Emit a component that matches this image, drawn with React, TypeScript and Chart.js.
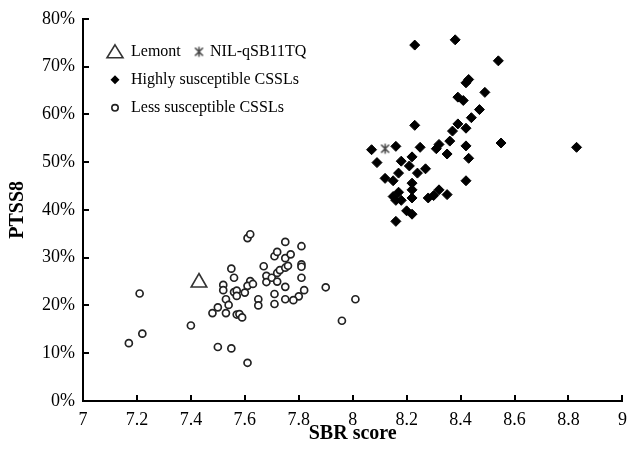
import { useEffect, useRef } from 'react';
import { Chart, registerables } from 'chart.js';

Chart.register(...registerables);

// ---- Data ----
const xTickValues = [7, 7.2, 7.4, 7.6, 7.8, 8, 8.2, 8.4, 8.6, 8.8, 9];
const xTickLabels = ['7', '7.2', '7.4', '7.6', '7.8', '8', '8.2', '8.4', '8.6', '8.8', '9'];
const yTickValues = [0, 10, 20, 30, 40, 50, 60, 70, 80];
const yTickLabels = ['0%', '10%', '20%', '30%', '40%', '50%', '60%', '70%', '80%'];

const legendLabels = ['Lemont', 'NIL-qSB11TQ', 'Highly susceptible CSSLs', 'Less susceptible CSSLs'];

const lemontX = [7.43];
const lemontY = [24.8];

const nilX = [8.12];
const nilY = [52.8];

const highlyX = [
  8.23, 8.38, 8.54, 8.43, 8.42, 8.49, 8.39, 8.41, 8.47, 8.44,
  8.23, 8.39, 8.37, 8.42, 8.36, 8.32, 8.31, 8.42, 8.55, 8.83,
  8.07, 8.16, 8.25, 8.09, 8.18, 8.22, 8.35, 8.43, 8.21, 8.24,
  8.27, 8.12, 8.15, 8.17, 8.42, 8.15, 8.17, 8.18, 8.16, 8.22,
  8.22, 8.22, 8.28, 8.30, 8.32, 8.35, 8.20, 8.22, 8.16,
];
const highlyY = [
  74.5, 75.6, 71.2, 67.3, 66.6, 64.6, 63.6, 62.9, 61.0, 59.3,
  57.7, 58.0, 56.5, 57.1, 54.4, 53.7, 52.8, 53.4, 54.0, 53.1,
  52.6, 53.3, 53.1, 49.9, 50.2, 51.1, 51.7, 50.8, 49.2, 47.7,
  48.6, 46.6, 46.1, 47.7, 46.1, 42.8, 43.7, 42.0, 42.0, 45.6,
  44.2, 42.5, 42.5, 43.0, 44.2, 43.2, 39.8, 39.1, 37.6,
];

const lessX = [
  7.21, 7.17, 7.22, 7.40, 7.50, 7.55, 7.61, 7.61, 7.62, 7.55,
  7.56, 7.52, 7.52, 7.56, 7.57, 7.57, 7.53, 7.54, 7.50, 7.48,
  7.53, 7.57, 7.58, 7.59, 7.62, 7.61, 7.63, 7.60, 7.65, 7.65,
  7.67, 7.68, 7.68, 7.70, 7.72, 7.72, 7.73, 7.75, 7.76, 7.71,
  7.72, 7.75, 7.75, 7.77, 7.81, 7.81, 7.81, 7.81, 7.82, 7.80,
  7.78, 7.75, 7.75, 7.71, 7.71, 7.90, 8.01, 7.96,
];
const lessY = [
  22.5, 12.1, 14.1, 15.8, 11.3, 11.0, 8.0, 34.1, 34.9, 27.7,
  25.8, 24.3, 23.2, 22.8, 23.1, 22.0, 21.3, 20.1, 19.6, 18.4,
  18.4, 18.1, 18.2, 17.5, 25.1, 24.1, 24.5, 22.7, 21.3, 20.0,
  28.2, 26.2, 24.9, 25.8, 25.0, 26.8, 27.4, 27.9, 28.3, 30.3,
  31.2, 33.3, 29.9, 30.7, 32.4, 28.6, 28.1, 25.8, 23.2, 21.9,
  21.1, 21.3, 23.9, 22.4, 20.3, 23.8, 21.3, 16.8,
];

const toPoints = (xs: number[], ys: number[]) => xs.map((x, i) => ({ x, y: ys[i] }));

function makeAsterisk(size: number, color: string, lw: number) {
  const c = document.createElement('canvas');
  c.width = size;
  c.height = size;
  const g = c.getContext('2d')!;
  g.strokeStyle = color;
  g.lineWidth = lw;
  const m = lw;
  g.beginPath();
  g.moveTo(size / 2, m);
  g.lineTo(size / 2, size - m);
  g.moveTo(m + 1, m + 1);
  g.lineTo(size - m - 1, size - m - 1);
  g.moveTo(size - m - 1, m + 1);
  g.lineTo(m + 1, size - m - 1);
  g.stroke();
  return c;
}

const SERIF = '"Liberation Serif", "Times New Roman", serif';

export default function App() {
  const ref = useRef<HTMLCanvasElement | null>(null);

  useEffect(() => {
    document.body.style.margin = '0';
    if (!ref.current) return;
    const star = makeAsterisk(13, '#444', 1.5);

    const decor = {
      id: 'decor',
      afterDraw(chart: any) {
        const { ctx, chartArea, scales } = chart;
        ctx.save();
        ctx.strokeStyle = '#000';
        ctx.lineWidth = 2;
        xTickValues.forEach((v) => {
          const px = Math.round(scales.x.getPixelForValue(v));
          ctx.beginPath();
          ctx.moveTo(px, chartArea.bottom);
          ctx.lineTo(px, chartArea.bottom - 6);
          ctx.stroke();
        });
        yTickValues.forEach((v) => {
          const py = Math.round(scales.y.getPixelForValue(v));
          ctx.beginPath();
          ctx.moveTo(chartArea.left, py);
          ctx.lineTo(chartArea.left + 6, py);
          ctx.stroke();
        });

        // legend
        const lx = chartArea.left + 32;
        const r1 = chartArea.top + 33;
        const r2 = r1 + 28;
        const r3 = r2 + 28;
        const tx = lx + 16;
        ctx.font = `16px ${SERIF}`;
        ctx.fillStyle = '#000';
        ctx.textBaseline = 'middle';
        ctx.textAlign = 'left';

        // triangle
        ctx.strokeStyle = '#333';
        ctx.lineWidth = 1.6;
        ctx.beginPath();
        ctx.moveTo(lx, r1 - 7);
        ctx.lineTo(lx + 8, r1 + 6);
        ctx.lineTo(lx - 8, r1 + 6);
        ctx.closePath();
        ctx.stroke();
        ctx.fillText(legendLabels[0], tx, r1);

        // asterisk
        const ax = lx + 84;
        ctx.drawImage(star, ax - 6.5, r1 - 6.5);
        ctx.fillText(legendLabels[1], ax + 11, r1);

        // diamond
        ctx.fillStyle = '#000';
        ctx.beginPath();
        ctx.moveTo(lx, r2 - 4.5);
        ctx.lineTo(lx + 4.5, r2);
        ctx.lineTo(lx, r2 + 4.5);
        ctx.lineTo(lx - 4.5, r2);
        ctx.closePath();
        ctx.fill();
        ctx.fillText(legendLabels[2], tx, r2);

        // circle
        ctx.strokeStyle = '#222';
        ctx.lineWidth = 1.6;
        ctx.beginPath();
        ctx.arc(lx, r3, 3.2, 0, Math.PI * 2);
        ctx.stroke();
        ctx.fillText(legendLabels[3], tx, r3);
        ctx.restore();
      },
    };

    const chart = new Chart(ref.current, {
      type: 'scatter',
      data: {
        datasets: [
          {
            label: legendLabels[3],
            data: toPoints(lessX, lessY),
            pointStyle: 'circle',
            pointRadius: 3.5,
            pointBorderWidth: 1.7,
            pointBackgroundColor: '#fff',
            pointBorderColor: '#222',
          },
          {
            label: legendLabels[2],
            data: toPoints(highlyX, highlyY),
            pointStyle: 'rectRot',
            pointRadius: 5,
            pointBorderWidth: 1,
            pointBackgroundColor: '#000',
            pointBorderColor: '#000',
          },
          {
            label: legendLabels[0],
            data: toPoints(lemontX, lemontY),
            pointStyle: 'triangle',
            pointRadius: 9,
            pointBorderWidth: 1.6,
            pointBackgroundColor: 'rgba(255,255,255,0)',
            pointBorderColor: '#333',
          },
          {
            label: legendLabels[1],
            data: toPoints(nilX, nilY),
            pointStyle: star,
            pointRadius: 6,
          },
        ],
      },
      options: {
        responsive: false,
        animation: false,
        devicePixelRatio: 1,
        layout: { padding: { left: 0, right: 6, top: 16, bottom: 0 } },
        plugins: { legend: { display: false }, tooltip: { enabled: false } },
        scales: {
          x: {
            type: 'linear',
            min: 7,
            max: 9,
            afterBuildTicks: (scale: any) => {
              scale.ticks = xTickValues.map((v) => ({ value: v }));
            },
            afterFit: (scale: any) => {
              scale.height = 55;
              scale.paddingLeft = 0;
              scale.paddingRight = 0;
            },
            grid: { display: false, drawTicks: false },
            border: { display: true, color: '#000', width: 2 },
            ticks: {
              color: '#000',
              padding: 8,
              maxRotation: 0,
              autoSkip: false,
              font: { family: SERIF, size: 18 },
              callback: (_v: any, i: number) => xTickLabels[i],
            },
            title: {
              display: true,
              text: 'SBR score',
              color: '#000',
              font: { family: SERIF, size: 20, weight: 'bold' },
              padding: { top: 0, bottom: 10 },
            },
          },
          y: {
            type: 'linear',
            min: 0,
            max: 80,
            afterBuildTicks: (scale: any) => {
              scale.ticks = yTickValues.map((v) => ({ value: v }));
            },
            afterFit: (scale: any) => {
              scale.width = 83;
            },
            grid: { display: false, drawTicks: false },
            border: { display: true, color: '#000', width: 2 },
            ticks: {
              color: '#000',
              padding: 8,
              autoSkip: false,
              font: { family: SERIF, size: 18 },
              callback: (_v: any, i: number) => yTickLabels[i],
            },
            title: {
              display: true,
              text: 'PTSS8',
              color: '#000',
              font: { family: SERIF, size: 20, weight: 'bold' },
              padding: { top: 6, bottom: 0 },
            },
          },
        },
      },
      plugins: [decor],
    });

    return () => chart.destroy();
  }, []);

  return (
    <div style={{ width: 633, height: 456, background: '#fff' }}>
      <canvas ref={ref} width={633} height={456} />
    </div>
  );
}
